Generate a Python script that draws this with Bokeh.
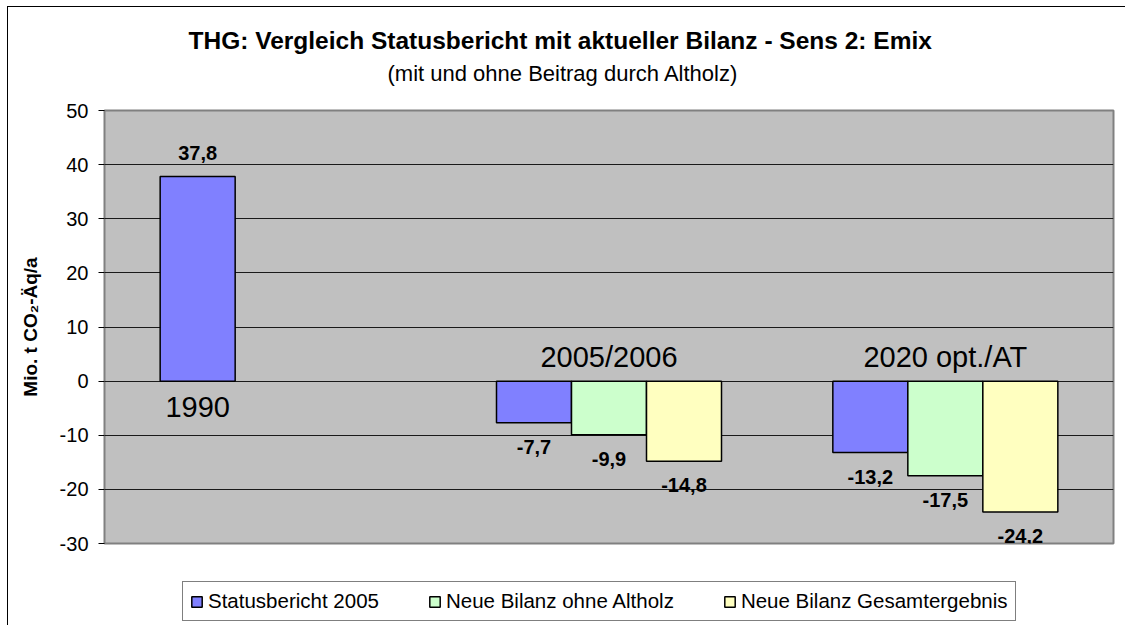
from bokeh.plotting import figure
from bokeh.layouts import column
from bokeh.models import (FactorRange, ColumnDataSource, Legend, LegendItem, Title,
                          FixedTicker, Range1d)
from bokeh.transform import dodge
from bokeh.core.properties import value
from bokeh.embed import file_html
from bokeh.resources import INLINE
import math

categories = ["1990", "2005/2006", "2020 opt./AT"]
series_names = ["Statusbericht 2005", "Neue Bilanz ohne Altholz", "Neue Bilanz Gesamtergebnis"]
statusbericht = [37.8, -7.7, -13.2]
ohne_altholz = [float("nan"), -9.9, -17.5]
gesamt = [float("nan"), -14.8, -24.2]
y_ticks = [-30, -20, -10, 0, 10, 20, 30, 40, 50]
y_tick_labels = {t: str(t) for t in y_ticks}

colors = ["#8080FF", "#CCFFCC", "#FFFFC0"]
FONT = "Liberation Sans"


def fmt(v):
    return "" if math.isnan(v) else f"{v:.1f}".replace(".", ",")


series = [statusbericht, ohne_altholz, gesamt]
data = {"cat": categories}
for i, s in enumerate(series):
    data[f"v{i}"] = s
    data[f"lab{i}"] = [fmt(v) for v in s]
    data[f"pos{i}"] = [v if (not math.isnan(v) and v >= 0) else float("nan") for v in s]
    data[f"neg{i}"] = [v if (not math.isnan(v) and v < 0) else float("nan") for v in s]
source = ColumnDataSource(data)

p = figure(
    width=1117, height=553,
    x_range=FactorRange(*categories, range_padding=0),
    y_range=(-30, 50),
    output_backend="svg", toolbar_location=None,
    min_border_left=96, min_border_right=12, min_border_top=103, min_border_bottom=17,
)

p.background_fill_color = "#C0C0C0"
p.border_fill_color = "white"
p.outline_line_color = "#808080"
p.outline_line_width = 2

bw = 0.223
offsets = [-bw, 0.0, bw]
renderers = []
for i in range(3):
    r = p.vbar(x=dodge("cat", offsets[i], range=p.x_range), top=f"v{i}", bottom=0,
               width=bw, source=source, fill_color=colors[i],
               line_color="black", line_width=1.5)
    renderers.append(r)
    p.text(x=dodge("cat", offsets[i], range=p.x_range), y=f"pos{i}", text=f"lab{i}",
           source=source, text_align="center", text_baseline="middle", y_offset=-24,
           text_font=value(FONT), text_font_size="20px", text_font_style="bold",
           text_color="black")
    p.text(x=dodge("cat", offsets[i], range=p.x_range), y=f"neg{i}", text=f"lab{i}",
           source=source, text_align="center", text_baseline="middle", y_offset=24,
           text_font=value(FONT), text_font_size="20px", text_font_style="bold",
           text_color="black")

# category labels inside the plot area
p.text(x=dodge("cat", -bw, range=p.x_range), y="y", text="cat",
       source=ColumnDataSource({"cat": categories[:1], "y": [-4.8]}),
       text_align="center", text_baseline="middle",
       text_font=value(FONT), text_font_size="29px", text_color="black")
p.text(x="cat", y="y", text="cat",
       source=ColumnDataSource({"cat": categories[1:], "y": [4.4, 4.4]}),
       text_align="center", text_baseline="middle",
       text_font=value(FONT), text_font_size="29px", text_color="black")

p.xaxis.visible = False
p.xgrid.visible = False

p.yaxis.ticker = FixedTicker(ticks=y_ticks)
p.yaxis.major_label_overrides = y_tick_labels
p.yaxis.axis_line_color = None
p.yaxis.major_tick_out = 6
p.yaxis.major_tick_in = 0
p.yaxis.minor_tick_line_color = None
p.yaxis.major_tick_line_color = "black"
p.yaxis.major_label_text_font = FONT
p.yaxis.major_label_text_font_size = "20px"
p.yaxis.major_label_text_color = "black"
p.yaxis.major_label_standoff = 10
p.yaxis.axis_label = "Mio. t CO₂-Äq/a"
p.yaxis.axis_label_text_font = FONT
p.yaxis.axis_label_text_font_size = "19px"
p.yaxis.axis_label_text_font_style = "bold"
p.yaxis.axis_label_text_color = "black"
p.yaxis.axis_label_standoff = 16
p.ygrid.ticker = FixedTicker(ticks=y_ticks[:-1])
p.ygrid.grid_line_color = "#1a1a1a"
p.ygrid.grid_line_width = 1

# titles
sub = Title(text="(mit und ohne Beitrag durch Altholz)", align="left",
            text_font=FONT, text_font_size="22px", text_font_style="normal",
            text_color="black", standoff=50, offset=283)
main = Title(text="THG: Vergleich Statusbericht mit aktueller Bilanz - Sens 2: Emix",
             align="left", text_font=FONT, text_font_size="24.5px",
             text_font_style="bold", text_color="black", standoff=-40, offset=84)
p.add_layout(sub, "above")
p.add_layout(main, "above")

# legend strip below the chart (its frame is aligned with the chart frame)
p2 = figure(width=1117, height=65, x_range=Range1d(0, 1), y_range=Range1d(0, 1),
            output_backend="svg", toolbar_location=None,
            min_border_left=0, min_border_right=0, min_border_top=0, min_border_bottom=0)
p2.axis.visible = False
p2.grid.visible = False
p2.outline_line_color = None
p2.background_fill_color = "white"
p2.border_fill_color = "white"
# legend proxies: same data and styles, not drawn themselves
legend_renderers = [p2.vbar(x=0.5, top=f"v{i}", bottom=0, width=0.1, source=source,
                            fill_color=colors[i], line_color="black", line_width=1.5,
                            visible=False)
                    for i in range(3)]

legend = Legend(items=[LegendItem(label=series_names[i], renderers=[legend_renderers[i]])
                       for i in range(3)],
                orientation="horizontal", location=(78, 4),
                border_line_color="black", border_line_width=1,
                background_fill_color="white", background_fill_alpha=1,
                inactive_fill_alpha=0,
                label_text_font=FONT, label_text_font_size="20.5px", label_text_color="black",
                glyph_width=13, glyph_height=13, label_standoff=5, spacing=49,
                padding=7, margin=0, label_height=22)
p2.add_layout(legend, "center")

layout = column(p, p2, spacing=0)
layout.styles = {"margin-left": "7px", "margin-top": "6px",
                 "border-left": "1px solid #000", "border-top": "1px solid #000"}
open("out.html", "w").write(file_html(layout, INLINE))
